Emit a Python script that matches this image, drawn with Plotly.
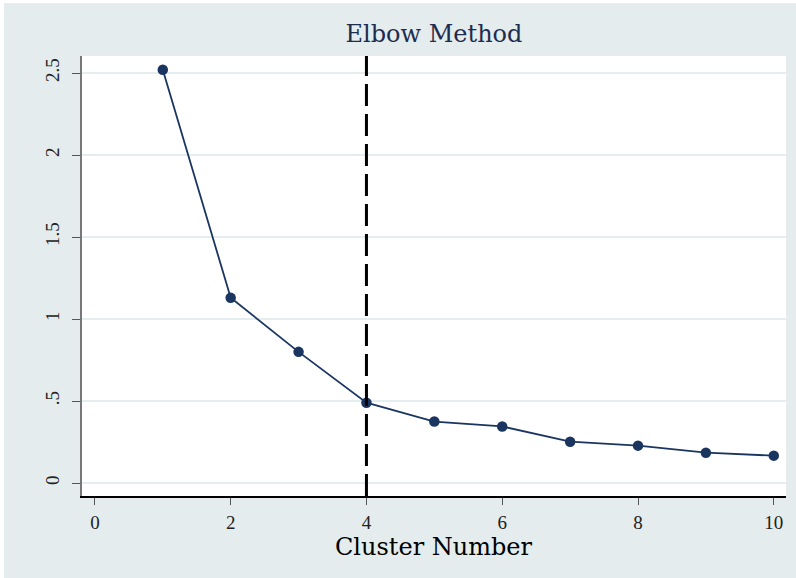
import plotly.graph_objects as go

clusters = [1, 2, 3, 4, 5, 6, 7, 8, 9, 10]
wcss = [2.52, 1.13, 0.80, 0.49, 0.375, 0.345, 0.252, 0.228, 0.185, 0.167]
elbow_k = 4
x_ticks = [0, 2, 4, 6, 8, 10]
y_ticks = [0, 0.5, 1, 1.5, 2, 2.5]
y_tick_labels = ["0", ".5", "1", "1.5", "2", "2.5"]

bg = "#e4ecee"
navy = "#1a3660"
serif = "DejaVu Serif"
tickserif = "Liberation Serif"

fig = go.Figure()
fig.add_trace(go.Scatter(
    x=clusters, y=wcss, mode="lines+markers",
    line=dict(color=navy, width=1.8),
    marker=dict(color=navy, size=10.5),
    showlegend=False,
))

fig.add_shape(type="line", xref="x", yref="paper", x0=elbow_k, x1=elbow_k, y0=0, y1=1,
              line=dict(color="black", width=3, dash="22px,8px"))

W, H = 792, 575
PLOT_H = 440
fig.add_annotation(text="Cluster Number", xref="paper", yref="paper", x=0.5,
                   y=-(544 - 493) / PLOT_H, xanchor="center", yanchor="middle",
                   showarrow=False, font=dict(family=serif, size=24, color="black"))

fig.update_layout(
    width=W, height=H,
    margin=dict(l=78, r=10, t=53, b=82),
    paper_bgcolor=bg, plot_bgcolor="white",
    title=dict(text="Elbow Method", x=0.5, xref="paper", xanchor="center",
               y=1 - 31 / H, yanchor="middle",
               font=dict(family=serif, size=24, color="#1e2d4f")),
    font=dict(family=serif, color="black"),
)
fig.update_xaxes(
    range=[-0.19, 10.18], tickvals=x_ticks, showgrid=False, zeroline=False,
    showline=True, linecolor="black", linewidth=1.5,
    ticks="outside", ticklen=7, tickcolor="#555", tickwidth=1,
    ticklabelstandoff=1,
    tickfont=dict(family=tickserif, size=19, color="#222"),
)
fig.update_yaxes(
    range=[-0.079, 2.604], tickvals=y_ticks, ticktext=y_tick_labels, tickangle=-90,
    showgrid=True, gridcolor="#e4eef0", gridwidth=1.5, zeroline=False,
    showline=True, linecolor="#777", linewidth=1.5,
    ticks="outside", ticklen=8, tickcolor="#555", tickwidth=1,
    ticklabelstandoff=6,
    tickfont=dict(family=tickserif, size=19, color="#222"),
)

fig.write_html(
    "out.html",
    post_script="document.body.style.margin='3px 0 0 4px';document.body.style.background='white';",
)
